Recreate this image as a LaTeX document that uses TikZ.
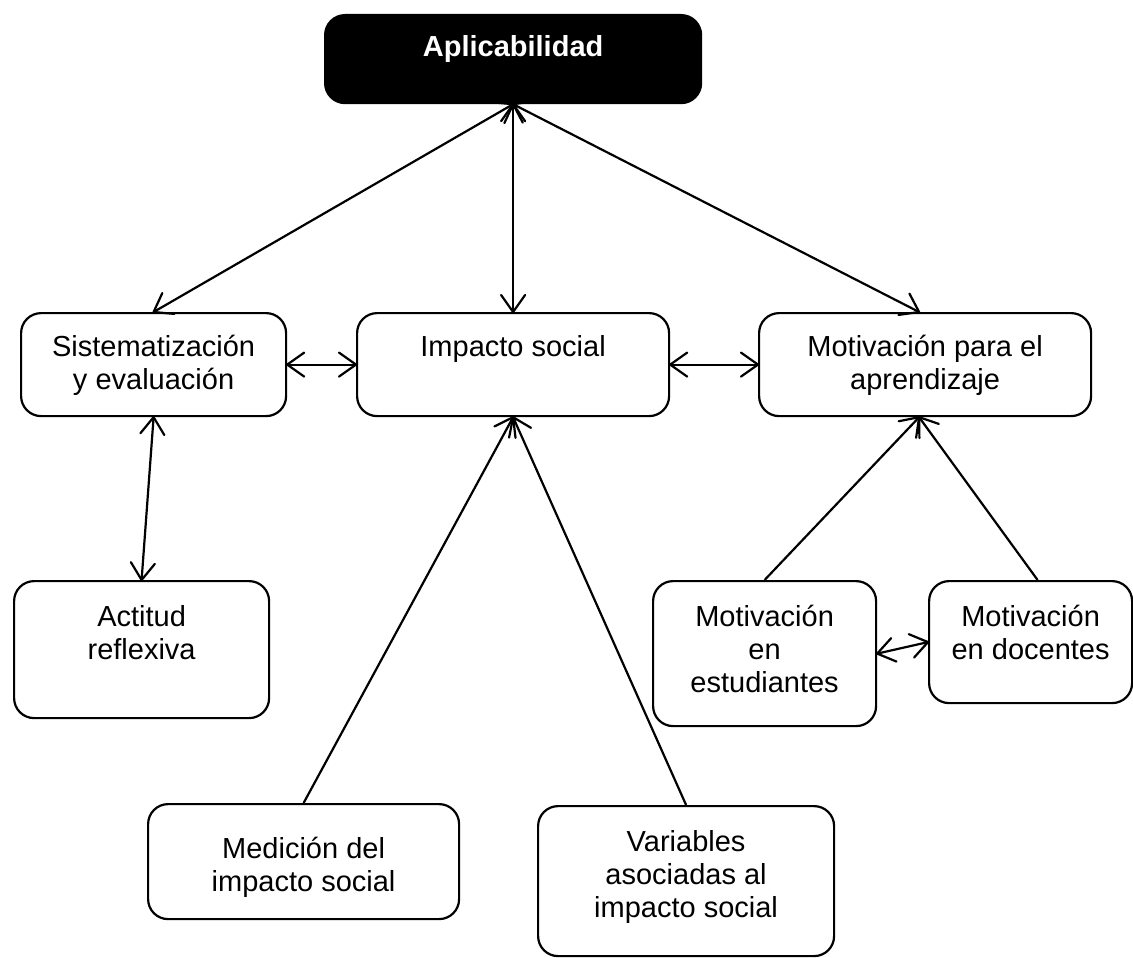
\documentclass[tikz,border=0pt]{standalone}
\usepackage{fontspec}
\setmainfont{Liberation Sans}
\usetikzlibrary{arrows.meta}
\newcommand{\rows}[1]{\begin{tabular}[t]{@{}c@{}}#1\end{tabular}}
% open V tip with straight barbs
\pgfdeclarearrow{
	name = Vee,
	parameters = {\the\pgfarrowlength,\the\pgfarrowwidth},
	setup code = {
		\pgfarrowssettipend{0pt}
		\pgfarrowssetbackend{-\pgfarrowlength}
		\pgfarrowssetlineend{-0.5\pgflinewidth}
		\pgfarrowssavethe\pgfarrowlength
		\pgfarrowssavethe\pgfarrowwidth
	},
	drawing code = {
		\pgfsetdash{}{0pt}
		\pgfsetroundjoin
		\pgfsetroundcap
		\pgfpathmoveto{\pgfqpoint{-\pgfarrowlength}{.5\pgfarrowwidth}}
		\pgfpathlineto{\pgfpointorigin}
		\pgfpathlineto{\pgfqpoint{-\pgfarrowlength}{-.5\pgfarrowwidth}}
		\pgfusepathqstroke
	},
	defaults = {length=17pt, width=24pt}
}

\begin{document}
\begin{tikzpicture}[x=1pt, y=-1pt, line width=2.2pt, >={Vee},
	concept/.style = {shape=rectangle, draw, rounded corners=20pt, fill=white, anchor=north west, inner sep=0pt, font=\fontsize{29}{33}\selectfont, text height=43pt, text depth=60pt},
	root/.style = {concept, fill=black, text=white, font=\fontsize{29}{33}\selectfont\bfseries}]
	\useasboundingbox (0,0) rectangle (1133,958);
	% top row
	\node[root, minimum width=376pt, text height=41pt, text depth=47pt] (apl) at (324,14) {Aplicabilidad};
	% middle row
	\node[concept, minimum width=265pt] (sist) at (20,312) {\rows{Sistematización\\y evaluación}};
	\node[concept, minimum width=312pt] (imp) at (356,312) {Impacto social};
	\node[concept, minimum width=332pt] (motap) at (758,312) {\rows{Motivación para el\\aprendizaje}};
	% lower boxes
	\node[concept, minimum width=255pt, text height=45pt, text depth=92pt] (act) at (13,580) {\rows{Actitud\\reflexiva}};
	\node[concept, minimum width=223pt, text height=45pt, text depth=100pt] (motest) at (652,580) {\rows{Motivación\\en\\estudiantes}};
	\node[concept, minimum width=203pt, text height=45pt, text depth=77pt] (motdoc) at (928,580) {\rows{Motivación\\en docentes}};
	\node[concept, minimum width=311pt, text height=54pt, text depth=61pt] (med) at (147,803) {\rows{Medición del\\impacto social}};
	\node[concept, minimum width=296pt, text height=45pt, text depth=105pt] (var) at (537,805) {\rows{Variables\\asociadas al\\impacto social}};
	% connectors
	\draw[<->] (apl.south) -- (sist.north);
	\draw[<->] (apl.south) -- (imp.north);
	\draw[<->] (apl.south) -- ([xshift=-6pt]motap.north);
	\draw[<->] (sist.east) -- (imp.west);
	\draw[<->] (imp.east) -- (motap.west);
	\draw[<->] (sist.south) -- (act.north);
	\draw[->] (med.north) -- (imp.south);
	\draw[->] (var.north) -- (imp.south);
	\draw[->] (motest.north) -- ([xshift=-6pt]motap.south);
	\draw[->] ([xshift=7pt]motdoc.north) -- ([xshift=-6pt]motap.south);
	\draw[<->] (motest.east) -- (motdoc.west);
\end{tikzpicture}
\end{document}
